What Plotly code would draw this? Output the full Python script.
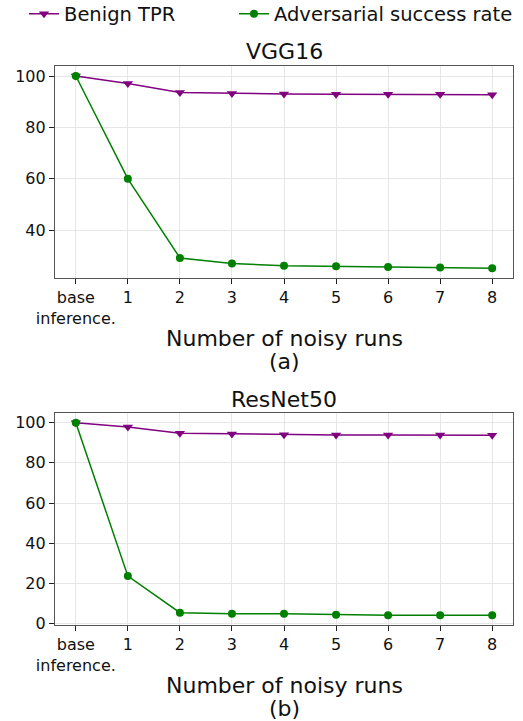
import plotly.graph_objects as go

# Shared x categories (noisy-run counts)
run_positions = [0, 1, 2, 3, 4, 5, 6, 7, 8]
run_labels = ["base<br>inference.", "1", "2", "3", "4", "5", "6", "7", "8"]

# VGG16 results (%)
vgg_benign_tpr = [100.0, 97.1, 93.6, 93.2, 93.0, 92.9, 92.9, 92.9, 92.7]
vgg_adv_success = [100.0, 60.0, 29.2, 27.0, 26.2, 26.0, 25.7, 25.5, 25.2]

# ResNet50 results (%)
resnet_benign_tpr = [100.0, 97.8, 94.7, 94.4, 94.0, 93.9, 93.9, 93.9, 93.7]
resnet_adv_success = [100.0, 23.7, 5.5, 5.0, 5.0, 4.5, 4.3, 4.3, 4.3]

W, H = 523, 721
FONT = "DejaVu Sans"
PURPLE = "#800080"
GREEN = "#008000"


def py(px):
    """Convert a pixel row (from top) to paper y."""
    return 1 - px / H


fig = go.Figure()

panels = [
    ("x", "y", vgg_benign_tpr, vgg_adv_success, True),
    ("x2", "y2", resnet_benign_tpr, resnet_adv_success, False),
]
for xa, ya, tpr, adv, show in panels:
    fig.add_trace(go.Scatter(
        x=run_positions, y=tpr, xaxis=xa, yaxis=ya, mode="lines+markers",
        name="Benign TPR", showlegend=show, legend="legend",
        line=dict(color=PURPLE, width=1.5),
        marker=dict(symbol="triangle-down", size=9, color=PURPLE),
    ))
    fig.add_trace(go.Scatter(
        x=run_positions, y=adv, xaxis=xa, yaxis=ya, mode="lines+markers",
        name="Adversarial success rate", showlegend=show, legend="legend2",
        line=dict(color=GREEN, width=1.5),
        marker=dict(symbol="circle", size=8, color=GREEN),
    ))

x_dom = [55 / W, 513 / W]
axis_common = dict(
    automargin=False,
    showline=True, linecolor="#555555", linewidth=1.2, mirror=True,
    showgrid=True, gridcolor="#e6e6e6", gridwidth=1,
    ticks="outside", ticklen=5, tickcolor="#222222", tickwidth=1,
    tickfont=dict(family=FONT, size=16, color="#111111"),
    zeroline=False,
)

legend_common = dict(
    orientation="h", xanchor="left", y=py(14), yanchor="middle",
    font=dict(family=FONT, size=19.5, color="#111111"),
    bgcolor="rgba(0,0,0,0)",
)

fig.update_layout(
    width=W, height=H,
    margin=dict(l=0, r=0, t=0, b=0, autoexpand=False),
    paper_bgcolor="white", plot_bgcolor="white",
    font=dict(family=FONT, color="#111111"),
    xaxis=dict(domain=x_dom, anchor="y", range=[-0.4, 8.4],
               tickvals=run_positions, ticktext=run_labels, **axis_common),
    yaxis=dict(domain=[py(278), py(66)], anchor="x", range=[21.4, 103.9],
               tickvals=[40, 60, 80, 100], **axis_common),
    xaxis2=dict(domain=x_dom, anchor="y2", range=[-0.4, 8.4],
                tickvals=run_positions, ticktext=run_labels, **axis_common),
    yaxis2=dict(domain=[py(625), py(413)], anchor="x2", range=[-0.6, 104.8],
                tickvals=[0, 20, 40, 60, 80, 100], **axis_common),
    legend=dict(x=24 / W, **legend_common),
    legend2=dict(x=234 / W, **legend_common),
)

cx = (x_dom[0] + x_dom[1]) / 2
texts = [
    ("VGG16", 52, 22),
    ("Number of noisy runs", 338, 22),
    ("(a)", 361, 22),
    ("ResNet50", 399, 22),
    ("Number of noisy runs", 685, 22),
    ("(b)", 708, 22),
]
for txt, ypx, size in texts:
    fig.add_annotation(
        text=txt, x=cx, y=py(ypx), xref="paper", yref="paper",
        xanchor="center", yanchor="middle", showarrow=False,
        font=dict(family=FONT, size=size, color="#111111"),
    )

fig.write_html("out.html")
